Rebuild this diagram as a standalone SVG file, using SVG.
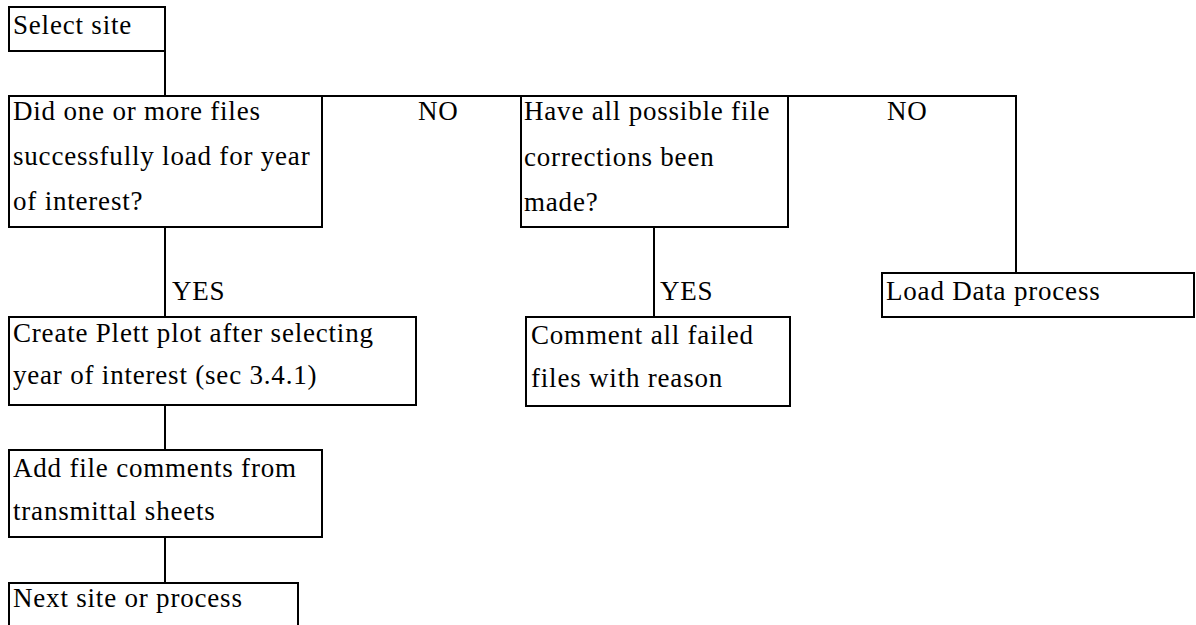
<svg xmlns="http://www.w3.org/2000/svg" width="1196" height="625" viewBox="0 0 1196 625">
<style>
.box{fill:#fff;stroke:#000;stroke-width:2}
.ln{fill:none;stroke:#000;stroke-width:2}
text{font-family:"Liberation Serif","Times New Roman",serif;font-size:27px;letter-spacing:0.8px;fill:#000}
</style>
<rect width="1196" height="625" fill="#fff"/>
<g id="connectors">
<path class="ln" d="M165,51 V96"/>
<path class="ln" d="M322,96 H1016 V273"/>
<path class="ln" d="M165,227 V317"/>
<path class="ln" d="M654,227 V317"/>
<path class="ln" d="M165,405 V450"/>
<path class="ln" d="M165,537 V583"/>
<text x="418" y="120">NO</text>
<text x="887" y="120">NO</text>
<text x="172" y="300">YES</text>
<text x="660" y="300">YES</text>
</g>
<g id="select-site">
<rect class="box" x="9" y="7" width="156" height="44"/>
<text x="13" y="34">Select site</text>
</g>
<g id="files-loaded">
<rect class="box" x="9" y="96" width="313" height="131"/>
<text x="13" y="120">Did one or more files</text>
<text x="13" y="165">successfully load for year</text>
<text x="13" y="210">of interest?</text>
</g>
<g id="corrections-made">
<rect class="box" x="521" y="96" width="267" height="131"/>
<text x="524" y="120">Have all possible file</text>
<text x="524" y="166">corrections been</text>
<text x="524" y="211">made?</text>
</g>
<g id="load-data">
<rect class="box" x="882" y="273" width="312" height="44"/>
<text x="886" y="300">Load Data process</text>
</g>
<g id="plett-plot">
<rect class="box" x="9" y="317" width="407" height="88"/>
<text x="13" y="342">Create Plett plot after selecting</text>
<text x="13" y="384">year of interest (sec 3.4.1)</text>
</g>
<g id="comment-failed">
<rect class="box" x="526" y="317" width="264" height="89"/>
<text x="531" y="344">Comment all failed</text>
<text x="531" y="387">files with reason</text>
</g>
<g id="add-comments">
<rect class="box" x="9" y="450" width="313" height="87"/>
<text x="13" y="477">Add file comments from</text>
<text x="13" y="520">transmittal sheets</text>
</g>
<g id="next-site">
<rect class="box" x="9" y="583" width="289" height="60"/>
<text x="13" y="607">Next site or process</text>
</g>
</svg>
